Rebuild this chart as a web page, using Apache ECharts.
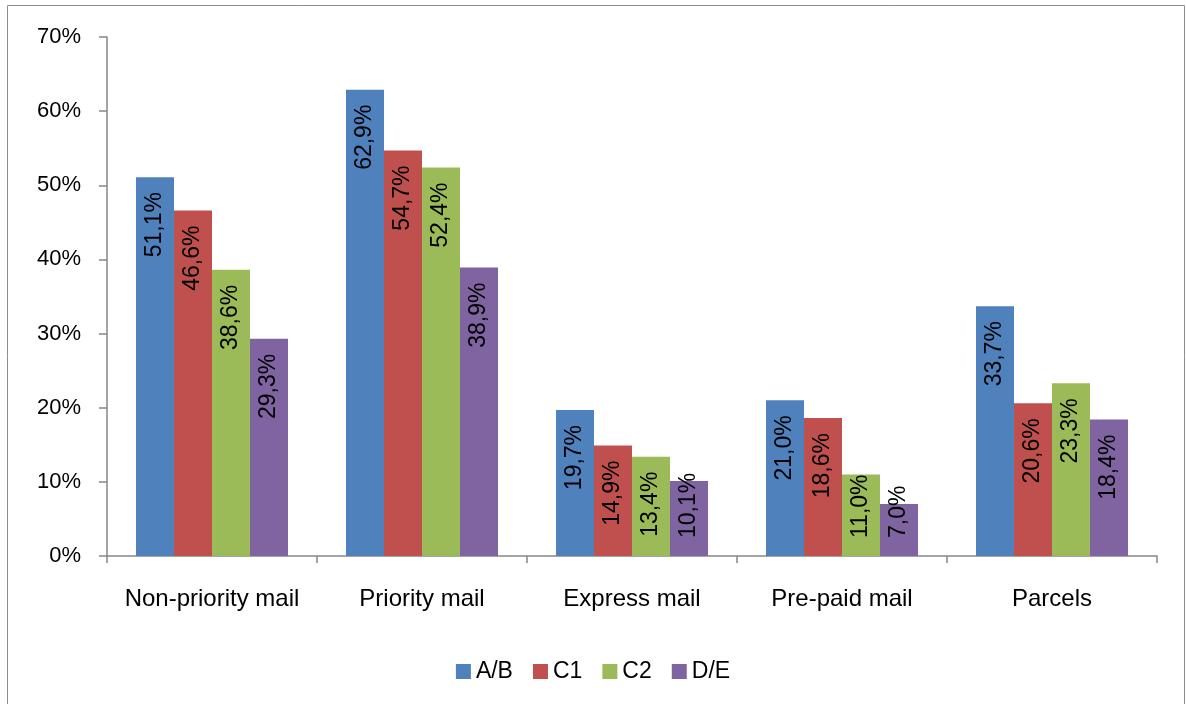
<!DOCTYPE html>
<html>
<head>
<meta charset="utf-8">
<script src="https://cdn.jsdelivr.net/npm/echarts@6/dist/echarts.min.js"></script>
<style>
html,body{margin:0;padding:0;background:#fff;}
#chart{width:1186px;height:704px;}
</style>
</head>
<body>
<div id="chart"></div>
<script>
const categories = ['Non-priority mail', 'Priority mail', 'Express mail', 'Pre-paid mail', 'Parcels'];
const seriesNames = ['A/B', 'C1', 'C2', 'D/E'];
const valuesAB = [51.1, 62.9, 19.7, 21.0, 33.7];
const valuesC1 = [46.6, 54.7, 14.9, 18.6, 20.6];
const valuesC2 = [38.6, 52.4, 13.4, 11.0, 23.3];
const valuesDE = [29.3, 38.9, 10.1, 7.0, 18.4];
const yTicks = [0, 10, 20, 30, 40, 50, 60, 70];

const colors = ['#4F81BD', '#C0504D', '#9BBB59', '#8064A2'];
const FONT = '"Liberation Sans", Arial, sans-serif';
const allValues = [valuesAB, valuesC1, valuesC2, valuesDE];

function fmt(v) { return v.toFixed(1).replace('.', ',') + '%'; }

const series = allValues.map((vals, i) => ({
  name: seriesNames[i],
  type: 'bar',
  barWidth: 38,
  barGap: '0%',
  itemStyle: { color: colors[i] },
  data: vals.map(v => {
    const small = v < 12;
    return {
      value: v,
      label: small ? {
        show: true, position: 'insideBottom', rotate: 90, align: 'left', verticalAlign: 'middle', distance: 18
      } : {
        show: true, position: 'insideTop', rotate: 90, align: 'right', verticalAlign: 'middle', distance: 15
      }
    };
  }),
  label: {
    show: true,
    color: '#000',
    fontFamily: FONT,
    fontSize: 23,
    formatter: p => fmt(p.value)
  }
}));

const chart = echarts.init(document.getElementById('chart'), null, { renderer: 'canvas' });
chart.setOption({
  animation: false,
  backgroundColor: '#fff',
  color: colors,
  grid: { left: 107, right: 29, top: 37, bottom: 148, containLabel: false },
  graphic: [{
    type: 'rect',
    shape: { x: 7.5, y: 5.5, width: 1177, height: 720 },
    style: { fill: 'none', stroke: '#8c8c8c', lineWidth: 1 },
    silent: true
  }],
  legend: {
    data: seriesNames,
    left: 'center',
    top: 655,
    itemWidth: 15,
    itemHeight: 15,
    itemGap: 20,
    icon: 'rect',
    textStyle: { fontFamily: FONT, fontSize: 23, color: '#000' }
  },
  xAxis: {
    type: 'category',
    data: categories,
    axisLine: { lineStyle: { color: '#868686', width: 1.5 } },
    axisTick: { show: true, length: 7, alignWithLabel: false, lineStyle: { color: '#868686', width: 1.5 } },
    axisLabel: { fontFamily: FONT, fontSize: 24, color: '#000', margin: 31, interval: 0 },
    splitLine: { show: false }
  },
  yAxis: {
    type: 'value',
    min: yTicks[0],
    max: yTicks[yTicks.length - 1],
    interval: 10,
    axisLine: { show: true, lineStyle: { color: '#868686', width: 1.5 } },
    axisTick: { show: true, length: 8, lineStyle: { color: '#868686', width: 1.5 } },
    axisLabel: { fontFamily: FONT, fontSize: 22, color: '#000', margin: 26, formatter: v => v + '%' },
    splitLine: { show: false }
  },
  series: series
});
</script>
</body>
</html>
